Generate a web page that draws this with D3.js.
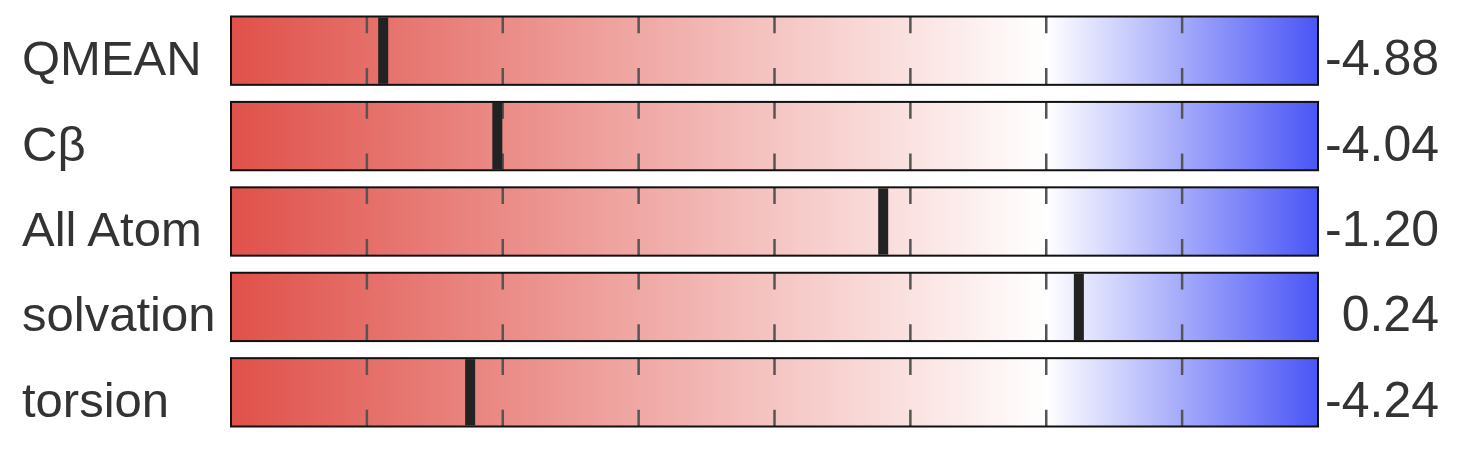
<!DOCTYPE html>
<html>
<head>
<meta charset="utf-8">
<script src="https://cdn.jsdelivr.net/npm/d3@7"></script>
<style>
  html, body { margin: 0; padding: 0; background: #fff; }
  svg { display: block; }
  text { font-family: "Liberation Sans", Arial, Helvetica, sans-serif; fill: #333; }
</style>
</head>
<body>
<svg id="chart" width="1472" height="464"></svg>
<script>
const categories = ["QMEAN", "Cβ", "All Atom", "solvation", "torsion"];
const scores = [-4.88, -4.04, -1.20, 0.24, -4.24];
const scoreLabels = ["-4.88", "-4.04", "-1.20", "0.24", "-4.24"];
const domainExtent = [-6, 2];
const tickValues = [-5, -4, -3, -2, -1, 0, 1];
const gradientStops = [
  { value: -6, color: "#e0514a" },
  { value: 0, color: "#ffffff" },
  { value: 2, color: "#4a55f6" }
];

const svg = d3.select("#chart");
const x = d3.scaleLinear().domain(domainExtent).range([231, 1318]);
const y = d3.scaleBand().domain(categories).range([16.5, 426.5]).paddingInner(0.2).paddingOuter(0);

const defs = svg.append("defs");
const grad = defs.append("linearGradient")
  .attr("id", "scoreGrad")
  .attr("gradientUnits", "userSpaceOnUse")
  .attr("x1", x(domainExtent[0])).attr("x2", x(domainExtent[1]))
  .attr("y1", 0).attr("y2", 0);
grad.selectAll("stop").data(gradientStops).join("stop")
  .attr("offset", d => (d.value - domainExtent[0]) / (domainExtent[1] - domainExtent[0]))
  .attr("stop-color", d => d.color);

const rows = svg.selectAll("g.row").data(categories).join("g")
  .attr("class", "row")
  .attr("transform", d => `translate(0,${y(d)})`);

const bh = y.bandwidth();

rows.append("rect")
  .attr("x", x(domainExtent[0]))
  .attr("y", 0)
  .attr("width", x(domainExtent[1]) - x(domainExtent[0]))
  .attr("height", bh)
  .attr("fill", "url(#scoreGrad)");

// dashed tick lines
rows.each(function() {
  d3.select(this).selectAll("line.tick").data(tickValues).join("line")
    .attr("class", "tick")
    .attr("x1", d => x(d)).attr("x2", d => x(d))
    .attr("y1", 0).attr("y2", bh)
    .attr("stroke", "#555")
    .attr("stroke-width", 2.5)
    .attr("stroke-dasharray", `${bh * 0.245} ${bh * 0.51}`);
});

// border
rows.append("rect")
  .attr("x", x(domainExtent[0]))
  .attr("y", 0)
  .attr("width", x(domainExtent[1]) - x(domainExtent[0]))
  .attr("height", bh)
  .attr("fill", "none")
  .attr("stroke", "#111")
  .attr("stroke-width", 2);

// score markers
rows.append("rect")
  .attr("x", (d, i) => x(scores[i]) - 5)
  .attr("y", 1)
  .attr("width", 10)
  .attr("height", bh - 2)
  .attr("fill", "#222");

// labels
rows.append("text")
  .attr("x", 22)
  .attr("y", bh / 2 + 24.5)
  .attr("font-size", 49)
  .text(d => d);

rows.append("text")
  .attr("x", 1439)
  .attr("y", bh / 2 + 24.5)
  .attr("font-size", 50)
  .attr("text-anchor", "end")
  .text((d, i) => scoreLabels[i]);
</script>
</body>
</html>
